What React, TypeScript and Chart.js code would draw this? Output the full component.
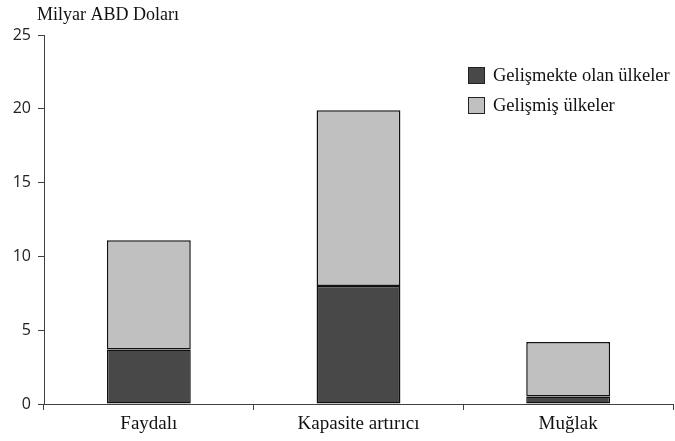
import React, { useEffect, useRef } from "react";
import { Chart, registerables } from "chart.js";

Chart.register(...registerables);

const categories = ["Faydalı", "Kapasite artırıcı", "Muğlak"];
const developing = [3.7, 8.0, 0.5];
const developed = [7.4, 11.9, 3.7];
const seriesLabels = ["Gelişmekte olan ülkeler", "Gelişmiş ülkeler"];
const yTicks = [0, 5, 10, 15, 20, 25];
const yTitle = "Milyar ABD Doları";

const SERIF = "'Liberation Serif', 'Times New Roman', serif";
const SANS = "'Open Sans', 'DejaVu Sans', sans-serif";

const overlayPlugin = {
  id: "overlay",
  afterDraw(chart: any) {
    const { ctx, chartArea } = chart;
    ctx.save();
    ctx.fillStyle = "#111";
    ctx.font = `18px ${SERIF}`;
    ctx.textAlign = "left";
    ctx.textBaseline = "middle";
    ctx.fillText(yTitle, chartArea.left - 7, 15);
    const x0 = chartArea.right - 205;
    let y0 = 67;
    chart.data.datasets.forEach((ds: any) => {
      ctx.fillStyle = ds.backgroundColor;
      ctx.fillRect(x0, y0, 17, 17);
      ctx.strokeStyle = "#222";
      ctx.lineWidth = 1;
      ctx.strokeRect(x0 + 0.5, y0 + 0.5, 16, 16);
      ctx.fillStyle = "#111";
      ctx.font = `18.5px ${SERIF}`;
      ctx.textBaseline = "middle";
      ctx.fillText(ds.label, x0 + 25, y0 + 9);
      y0 += 30;
    });
    ctx.restore();
  },
};

export default function App() {
  const ref = useRef<HTMLCanvasElement>(null);
  useEffect(() => {
    if (!ref.current) return;
    const chart = new Chart(ref.current, {
      type: "bar",
      data: {
        labels: categories,
        datasets: [
          {
            label: seriesLabels[0],
            data: developing,
            backgroundColor: "#484848",
            borderColor: "#111",
            borderWidth: 1.5,
            borderSkipped: false,
            categoryPercentage: 1,
            barPercentage: 0.4,
          },
          {
            label: seriesLabels[1],
            data: developed,
            backgroundColor: "#c0c0c0",
            borderColor: "#111",
            borderWidth: 1.5,
            borderSkipped: false,
            categoryPercentage: 1,
            barPercentage: 0.4,
          },
        ],
      },
      options: {
        animation: false,
        responsive: false,
        maintainAspectRatio: false,
        layout: { padding: { top: 35, right: 2, bottom: 0, left: 0 } },
        plugins: {
          legend: { display: false },
          tooltip: { enabled: false },
          title: { display: false },
        },
        scales: {
          x: {
            stacked: true,
            grid: {
              display: true,
              drawOnChartArea: false,
              drawTicks: true,
              tickLength: 6,
              color: "#404040",
              offset: true,
            },
            border: { display: true, color: "#404040", width: 1 },
            ticks: {
              color: "#111",
              font: { family: SERIF, size: 19 },
              padding: 3,
            },
            afterFit: (scale: any) => {
              scale.height = 37;
            },
          },
          y: {
            stacked: true,
            min: 0,
            max: 25,
            afterBuildTicks: (scale: any) => {
              scale.ticks = yTicks.map((v) => ({ value: v }));
            },
            grid: {
              display: true,
              drawOnChartArea: false,
              drawTicks: true,
              tickLength: 6,
              color: "#404040",
            },
            border: { display: true, color: "#404040", width: 1 },
            ticks: {
              color: "#222",
              font: { family: SANS, size: 16 },
              padding: 7,
            },
            afterFit: (scale: any) => {
              scale.width = 44;
            },
          },
        },
      },
      plugins: [overlayPlugin],
    });
    return () => chart.destroy();
  }, []);
  return (
    <div style={{ position: "fixed", left: 0, top: 0, width: 675, height: 441, background: "#fff" }}>
      <canvas ref={ref} width={675} height={441} style={{ width: 675, height: 441 }} />
    </div>
  );
}
